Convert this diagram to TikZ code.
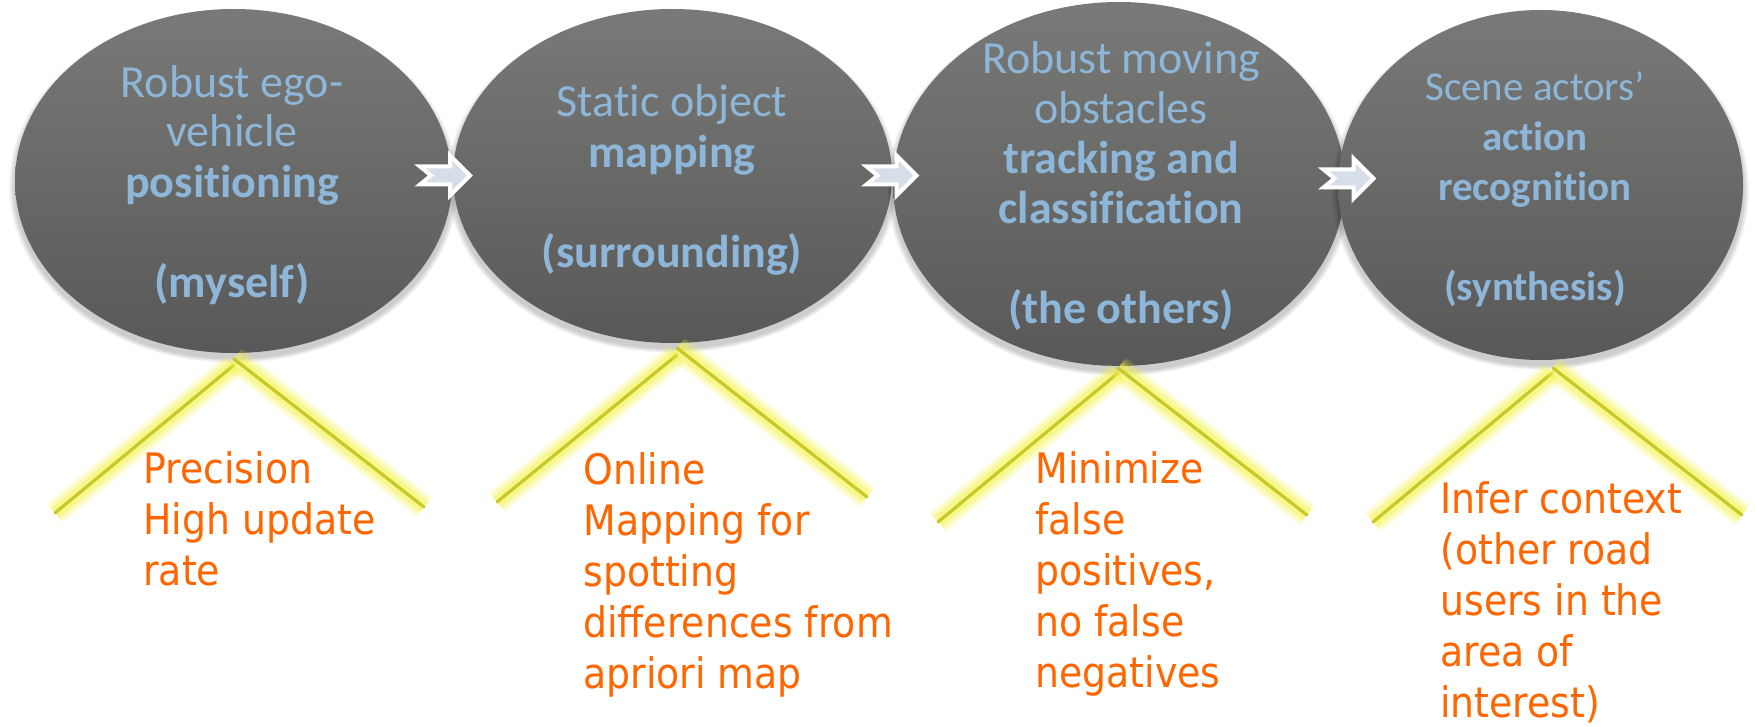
\documentclass[tikz,border=0pt]{standalone}
\usepackage{fontspec}
\setmainfont{Carlito}[Ligatures=NoCommon]
\newfontfamily\notefont{DejaVu Sans}[FakeStretch=0.9]
\usetikzlibrary{shapes.geometric,calc}

\definecolor{bubbletop}{RGB}{121,121,119}
\definecolor{bubblebot}{RGB}{88,88,88}
\definecolor{bubbletext}{RGB}{141,182,216}
\definecolor{notetext}{RGB}{255,102,0}
\definecolor{branchcore}{RGB}{200,200,40}
\definecolor{branchglow}{RGB}{242,242,70}
\definecolor{chevfill}{RGB}{214,223,233}

\tikzset{
  bubble/.style={ellipse, inner sep=0pt, draw=none,
    top color=bubbletop, bottom color=bubblebot},
  % multi-line nodes: the base anchor sits on the last line
  bubbletxt/.style={anchor=base, align=center, inner sep=0pt,
    text=bubbletext, font=\fontsize{23}{25}\selectfont},
  smalltxt/.style={font=\fontsize{20.5}{25}\selectfont},
  note/.style={anchor=base west, align=left, inner sep=0pt,
    text=notetext, font=\notefont\fontsize{21}{25.4}\selectfont},
  branch/.style={line cap=round, draw=branchcore, line width=1.6pt,
    preaction={draw=branchglow, line width=13pt, opacity=0.12},
    preaction={draw=branchglow, line width=11pt, opacity=0.16},
    preaction={draw=branchglow, line width=8.5pt, opacity=0.22},
    preaction={draw=branchglow, line width=6pt, opacity=0.35}},
  chevstyle/.style={fill=chevfill, draw=white, line width=2pt, line join=miter},
  chevron/.pic={
    \draw[chevstyle] (-25,-9) -- (5,-9) -- (5,-20) -- (25,0) -- (5,20)
      -- (5,9) -- (-25,9) -- (-14,0) -- cycle;
  }
}

\begin{document}
\begin{tikzpicture}[x=0.5pt, y=-0.5pt]
\useasboundingbox (0,0) rectangle (1755,727);

% stages: soft shadow first, then the shaded ellipse on top
\foreach \n/\cx/\cy/\rx/\ry in {e1/233.5/181/218.5/172, e2/672.5/176/219.5/167,
                                e3/1119/184/226/182, e4/1540.5/185/202.5/175} {
  \foreach \k in {1,...,6}
    \fill[black, opacity=0.035] (\cx,\cy+5) ellipse [x radius=\rx+\k, y radius=\ry+0.8*\k];
  \node[bubble, minimum width=\rx*1pt, minimum height=\ry*1pt] (\n) at (\cx,\cy) {};
}

% stage titles
\node[bubbletxt] (t1) at (232,297)
  {Robust ego-\\vehicle\\\textbf{positioning}\\[25pt]\textbf{(myself)}};
\node[bubbletxt] (t2) at (672,267)
  {Static object\\\textbf{mapping}\\[25pt]\textbf{(surrounding)}};
\node[bubbletxt] (t3) at (1121,323)
  {Robust moving\\obstacles\\\textbf{tracking and}\\\textbf{classification}\\[25pt]\textbf{(the others)}};
\node[bubbletxt, smalltxt] (t4) at (1535,300)
  {Scene actors’\\\textbf{action}\\\textbf{recognition}\\[25pt]\textbf{(synthesis)}};

% block arrows between the stages
\pic at (445,175.5) {chevron};
\pic at (891.5,175.5) {chevron};
\pic at (1348.5,178.5) {chevron};

% glowing branches under each stage
\coordinate (a1l) at (234,365);  \coordinate (a1r) at (234,359);
\coordinate (f1l) at (55,513);   \coordinate (f1r) at (424,507);
\coordinate (a2l) at (677,355);  \coordinate (a2r) at (677,348);
\coordinate (f2l) at (497,502);  \coordinate (f2r) at (867,497);
\coordinate (a3l) at (1118,373); \coordinate (a3r) at (1118,368);
\coordinate (f3l) at (938,522);  \coordinate (f3r) at (1307,515);
\coordinate (a4l) at (1552,373); \coordinate (a4r) at (1553,368);
\coordinate (f4l) at (1373,522); \coordinate (f4r) at (1742,515);
\foreach \i in {1,2,3,4} {
  \draw[branch] (a\i l) -- (f\i l);
  \draw[branch] (a\i r) -- (f\i r);
}

% requirements
\node[note] (n1) at (143,585) {Precision\\High update\\rate};
\node[note] (n2) at (583,688) {Online\\Mapping for\\spotting\\differences from\\apriori map};
\node[note] (n3) at (1035,687) {Minimize\\false\\positives,\\no false\\negatives};
\node[note] (n4) at (1440,717) {Infer context\\(other road\\users in the\\area of\\interest)};
\end{tikzpicture}
\end{document}
